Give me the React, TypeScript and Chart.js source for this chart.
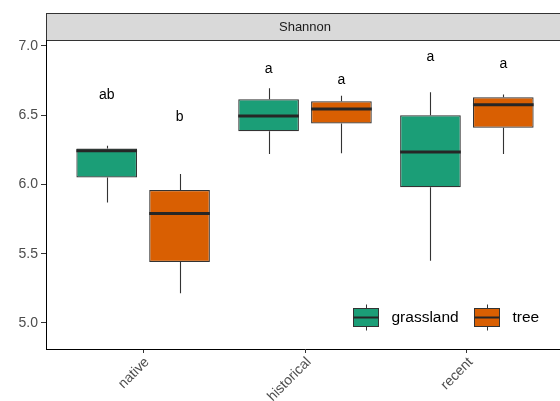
import React, { useEffect, useRef } from 'react';
import { Chart, registerables } from 'chart.js';

Chart.register(...registerables);

const categories = ['native', 'historical', 'recent'];
const groupNames = ['grassland', 'tree'];
const groupColors = ['#1b9e77', '#d95f02'];

const grassMin = [5.87, 6.22, 5.45];
const grassQ1 = [6.05, 6.385, 5.98];
const grassMedian = [6.243, 6.495, 6.235];
const grassQ3 = [6.26, 6.615, 6.5];
const grassMax = [6.28, 6.695, 6.665];

const treeMin = [5.215, 6.225, 6.22];
const treeQ1 = [5.44, 6.44, 6.41];
const treeMedian = [5.79, 6.545, 6.575];
const treeQ3 = [5.96, 6.6, 6.63];
const treeMax = [6.075, 6.64, 6.65];

const grassLetters = ['ab', 'a', 'a'];
const treeLetters = ['b', 'a', 'a'];
const grassLetterY = [6.617, 6.803, 6.894];
const treeLetterY = [6.461, 6.726, 6.843];

const yTicks = [5.0, 5.5, 6.0, 6.5, 7.0];
const stripLabel = 'Shannon';

const FONT = "'Liberation Sans', Arial, Helvetica, sans-serif";

const groups = [
  { min: grassMin, q1: grassQ1, med: grassMedian, q3: grassQ3, max: grassMax, letters: grassLetters, letterY: grassLetterY },
  { min: treeMin, q1: treeQ1, med: treeMedian, q3: treeQ3, max: treeMax, letters: treeLetters, letterY: treeLetterY },
];

const extrasPlugin = {
  id: 'boxExtras',
  beforeDraw(chart: any) {
    const { ctx, chartArea } = chart;
    ctx.save();
    ctx.fillStyle = '#ffffff';
    ctx.fillRect(0, 0, chart.width, chart.height);
    const top = 13.5;
    const bottom = chartArea.top + 0.5;
    ctx.fillStyle = '#d9d9d9';
    ctx.fillRect(chartArea.left, top, chart.width, bottom - top);
    ctx.strokeStyle = '#333333';
    ctx.lineWidth = 1;
    ctx.strokeRect(chartArea.left + 0.5, top, chart.width + 10, bottom - top);
    ctx.fillStyle = '#1a1a1a';
    ctx.font = `13px ${FONT}`;
    ctx.textAlign = 'center';
    ctx.textBaseline = 'middle';
    ctx.fillText(stripLabel, (chartArea.left + chartArea.right) / 2, (top + bottom) / 2);
    ctx.restore();
  },
  afterDatasetsDraw(chart: any) {
    const { ctx } = chart;
    const y = chart.scales.y;
    ctx.save();
    chart.data.datasets.forEach((_ds: any, di: number) => {
      const meta = chart.getDatasetMeta(di);
      const g = groups[di];
      meta.data.forEach((bar: any, i: number) => {
        const { x, width } = bar.getProps(['x', 'width'], true);
        const cx = Math.round(x) + 0.5;
        ctx.strokeStyle = '#333333';
        ctx.lineWidth = 1.1;
        ctx.beginPath();
        ctx.moveTo(cx, y.getPixelForValue(g.q3[i]));
        ctx.lineTo(cx, y.getPixelForValue(g.max[i]));
        ctx.moveTo(cx, y.getPixelForValue(g.q1[i]));
        ctx.lineTo(cx, y.getPixelForValue(g.min[i]));
        ctx.stroke();
        ctx.strokeStyle = '#262626';
        ctx.lineWidth = 3;
        ctx.beginPath();
        const my = y.getPixelForValue(g.med[i]);
        ctx.moveTo(x - width / 2, my);
        ctx.lineTo(x + width / 2, my);
        ctx.stroke();
        ctx.fillStyle = '#000000';
        ctx.font = `14px ${FONT}`;
        ctx.textAlign = 'center';
        ctx.textBaseline = 'alphabetic';
        ctx.fillText(g.letters[i], x, y.getPixelForValue(g.letterY[i]));
      });
    });
    ctx.restore();
  },
  afterDraw(chart: any) {
    const { ctx } = chart;
    ctx.save();
    const keyX = [353, 474];
    const keyW = 25;
    const keyTop = 308.5;
    const keyBot = 326.5;
    groupNames.forEach((name, i) => {
      const kx = keyX[i] + 0.5;
      const mid = kx + Math.round(keyW / 2);
      ctx.strokeStyle = '#333333';
      ctx.lineWidth = 1;
      ctx.beginPath();
      ctx.moveTo(mid, keyTop - 4);
      ctx.lineTo(mid, keyTop);
      ctx.moveTo(mid, keyBot);
      ctx.lineTo(mid, keyBot + 4);
      ctx.stroke();
      ctx.fillStyle = groupColors[i];
      ctx.fillRect(kx, keyTop, keyW, keyBot - keyTop);
      ctx.strokeRect(kx, keyTop, keyW, keyBot - keyTop);
      ctx.strokeStyle = '#262626';
      ctx.lineWidth = 2;
      ctx.beginPath();
      ctx.moveTo(kx, (keyTop + keyBot) / 2);
      ctx.lineTo(kx + keyW, (keyTop + keyBot) / 2);
      ctx.stroke();
      ctx.fillStyle = '#000000';
      ctx.font = `15.5px ${FONT}`;
      ctx.textAlign = 'left';
      ctx.textBaseline = 'middle';
      ctx.fillText(name, kx + keyW + 13, (keyTop + keyBot) / 2);
    });
    ctx.restore();
  },
};

export default function App() {
  const canvasRef = useRef<HTMLCanvasElement | null>(null);

  useEffect(() => {
    document.body.style.margin = '0';
    const canvas = canvasRef.current;
    if (!canvas) return;
    const chart = new Chart(canvas, {
      type: 'bar',
      data: {
        datasets: groupNames.map((name, gi) => ({
          label: name,
          data: categories.map((_c, i) => ({ x: i + 1, y: [groups[gi].q1[i], groups[gi].q3[i]] })),
          backgroundColor: groupColors[gi],
          borderColor: '#333333',
          borderWidth: 1.2,
          borderSkipped: false,
          categoryPercentage: 0.9,
          barPercentage: 0.833,
        })) as any,
      },
      options: {
        responsive: false,
        animation: false,
        devicePixelRatio: 1,
        layout: { padding: { top: 40, right: 16, left: 0, bottom: 0 } },
        plugins: { legend: { display: false }, tooltip: { enabled: false } },
        scales: {
          x: {
            type: 'linear',
            min: 0.4,
            max: 3.6,
            offset: false,
            afterBuildTicks: (s: any) => {
              s.ticks = categories.map((_c, i) => ({ value: i + 1 }));
            },
            afterFit: (s: any) => {
              s.height = 52;
            },
            ticks: {
              callback: (v: any) => categories[Math.round(Number(v)) - 1] ?? '',
              minRotation: 45,
              maxRotation: 45,
              autoSkip: false,
              color: '#4d4d4d',
              font: { family: FONT, size: 14 },
              padding: 1,
              labelOffset: 4,
            },
            grid: { display: true, offset: false, drawOnChartArea: false, drawTicks: true, tickLength: 4, color: '#333333' },
            border: { display: true, color: '#000000', width: 1 },
          },
          y: {
            type: 'linear',
            min: 4.812,
            max: 7.043,
            afterBuildTicks: (s: any) => {
              s.ticks = yTicks.map((v) => ({ value: v }));
            },
            afterFit: (s: any) => {
              s.width = 46;
            },
            ticks: {
              callback: (v: any) => Number(v).toFixed(1),
              color: '#4d4d4d',
              font: { family: FONT, size: 14 },
              padding: 3,
            },
            grid: { display: true, drawOnChartArea: false, drawTicks: true, tickLength: 5, color: '#333333' },
            border: { display: true, color: '#000000', width: 1 },
          },
        },
      } as any,
      plugins: [extrasPlugin],
    });
    return () => chart.destroy();
  }, []);

  return (
    <div style={{ width: 560, height: 401, overflow: 'hidden', position: 'relative', background: '#fff' }}>
      <canvas ref={canvasRef} width={580} height={401} style={{ display: 'block', width: 580, height: 401 }} />
    </div>
  );
}
